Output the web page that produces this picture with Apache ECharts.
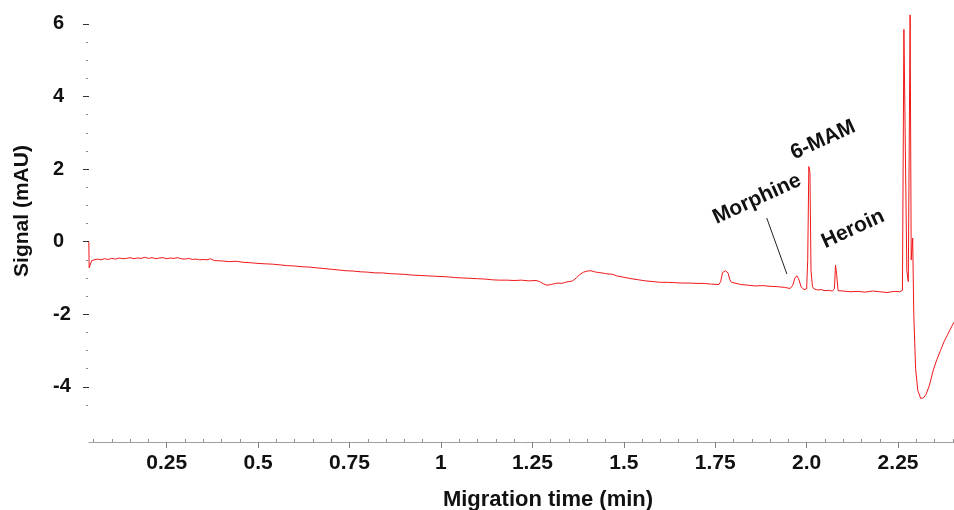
<!DOCTYPE html>
<html>
<head>
<meta charset="utf-8">
<script src="https://cdn.jsdelivr.net/npm/echarts@6/dist/echarts.min.js"></script>
<style>
  html, body { margin: 0; padding: 0; background: #fff; }
  #chart { width: 954px; height: 510px; }
</style>
</head>
<body>
<div id="chart"></div>
<script>
// Electropherogram: migration time (min) vs. UV signal (mAU)
const timeMin = [
  0.037, 0.038, 0.040, 0.045, 0.050, 0.060, 0.070, 0.080, 0.090, 0.100,
  0.110, 0.120, 0.130, 0.140, 0.150, 0.160, 0.170, 0.180, 0.190, 0.200,
  0.210, 0.220, 0.230, 0.240, 0.250, 0.260, 0.270, 0.280, 0.290, 0.300,
  0.310, 0.320, 0.330, 0.340, 0.350, 0.360, 0.370, 0.380, 0.400, 0.420,
  0.440, 0.460, 0.480, 0.500, 0.520, 0.540, 0.560, 0.580, 0.600, 0.620,
  0.640, 0.660, 0.680, 0.700, 0.720, 0.740, 0.760, 0.780, 0.800, 0.820,
  0.840, 0.860, 0.880, 0.900, 0.920, 0.940, 0.960, 0.980, 1.000, 1.020,
  1.040, 1.060, 1.080, 1.100, 1.120, 1.140, 1.160, 1.180, 1.200, 1.220,
  1.240, 1.260, 1.270, 1.280, 1.290, 1.300, 1.310, 1.320, 1.330, 1.340,
  1.350, 1.360, 1.370, 1.380, 1.390, 1.400, 1.410, 1.420, 1.430, 1.440,
  1.450, 1.460, 1.470, 1.480, 1.500, 1.520, 1.540, 1.560, 1.580, 1.600,
  1.620, 1.640, 1.660, 1.680, 1.700, 1.720, 1.740, 1.760, 1.765, 1.770,
  1.778, 1.785, 1.790, 1.795, 1.800, 1.820, 1.840, 1.860, 1.880, 1.900,
  1.920, 1.940, 1.955, 1.962, 1.968, 1.973, 1.978, 1.985, 1.993, 2.000,
  2.003, 2.006, 2.009, 2.012, 2.016, 2.020, 2.030, 2.040, 2.050, 2.060,
  2.070, 2.076, 2.079, 2.082, 2.086, 2.090, 2.100, 2.120, 2.140, 2.160,
  2.180, 2.200, 2.220, 2.240, 2.255, 2.262, 2.266, 2.270, 2.274, 2.278,
  2.283, 2.286, 2.290, 2.293, 2.298, 2.304, 2.312, 2.320, 2.327, 2.336,
  2.346, 2.356, 2.366, 2.376, 2.386, 2.396, 2.403
];
const signalMAU = [
  0.00, -0.72, -0.66, -0.52, -0.50, -0.48, -0.50, -0.47, -0.49, -0.46,
  -0.48, -0.45, -0.47, -0.46, -0.44, -0.47, -0.45, -0.46, -0.43, -0.46,
  -0.44, -0.47, -0.45, -0.44, -0.47, -0.45, -0.46, -0.44, -0.47, -0.48,
  -0.46, -0.49, -0.48, -0.50, -0.49, -0.50, -0.47, -0.52, -0.53, -0.55,
  -0.54, -0.57, -0.58, -0.60, -0.61, -0.62, -0.64, -0.66, -0.67, -0.69,
  -0.70, -0.72, -0.74, -0.76, -0.78, -0.80, -0.81, -0.83, -0.84, -0.86,
  -0.86, -0.88, -0.89, -0.90, -0.92, -0.93, -0.94, -0.95, -0.96, -0.97,
  -0.99, -1.00, -1.01, -1.02, -1.03, -1.05, -1.06, -1.06, -1.07, -1.06,
  -1.08, -1.07, -1.10, -1.16, -1.20, -1.18, -1.16, -1.14, -1.15, -1.12,
  -1.10, -1.08, -1.00, -0.90, -0.84, -0.81, -0.80, -0.83, -0.85, -0.86,
  -0.88, -0.89, -0.90, -0.94, -0.98, -1.02, -1.05, -1.08, -1.10, -1.12,
  -1.12, -1.13, -1.14, -1.14, -1.15, -1.15, -1.17, -1.18, -1.10, -0.85,
  -0.80, -0.86, -1.05, -1.12, -1.14, -1.18, -1.20, -1.22, -1.21, -1.23,
  -1.24, -1.26, -1.29, -1.20, -1.00, -0.94, -1.02, -1.25, -1.32, -1.30,
  -0.50, 2.07, 1.90, -0.80, -1.24, -1.30, -1.33, -1.32, -1.35, -1.34,
  -1.36, -1.30, -0.65, -0.90, -1.35, -1.37, -1.36, -1.38, -1.37, -1.39,
  -1.36, -1.38, -1.40, -1.37, -1.38, -1.34, 5.85, 5.80, -0.80, -1.10,
  6.25, -0.50, 0.10, -2.00, -3.50, -4.10, -4.32, -4.30, -4.20, -3.95,
  -3.55, -3.25, -3.00, -2.75, -2.55, -2.35, -2.22
];

// axis tick values
const xLabelValues = [0.25, 0.5, 0.75, 1, 1.25, 1.5, 1.75, 2.0, 2.25];
const xLabelTexts = ['0.25', '0.5', '0.75', '1', '1.25', '1.5', '1.75', '2.0', '2.25'];
const xMinorTicks = [0.05, 0.1, 0.15, 0.2, 0.3, 0.35, 0.4, 0.45, 0.55, 0.6, 0.65, 0.7,
  0.8, 0.85, 0.9, 0.95, 1.05, 1.1, 1.15, 1.2, 1.3, 1.35, 1.4, 1.45, 1.55, 1.6, 1.65, 1.7,
  1.8, 1.85, 1.9, 1.95, 2.05, 2.1, 2.15, 2.2, 2.3, 2.35, 2.4];
const yLabelValues = [6, 4, 2, 0, -2, -4];
const yMinorTicks = [5.5, 5, 4.5, 3.5, 3, 2.5, 1.5, 1, 0.5, -0.5, -1, -1.5, -2.5, -3, -3.5, -4.5];

// peak annotation texts
const peakNames = ['Morphine', '6-MAM', 'Heroin'];

const FONT = '"Liberation Sans", Arial, sans-serif';
const X_MIN = 0.0375, X_MAX = 2.403, Y_MIN = -5.52, Y_MAX = 6.66;

const chart = echarts.init(document.getElementById('chart'));

const series = timeMin.map((t, i) => [t, signalMAU[i]]);

const annStyle = (text) => ({
  text, fontFamily: FONT, fontWeight: 'bold', fontSize: 21,
  fill: '#111', textAlign: 'center', textVerticalAlign: 'middle'
});

chart.setOption({
  animation: false,
  backgroundColor: '#ffffff',
  grid: { left: 89, right: 0, top: 0, bottom: 68 },
  xAxis: [
    {
      type: 'value', min: X_MIN, max: X_MAX,
      axisLine: { show: true, onZero: false, lineStyle: { color: '#a0a0a0', width: 1 } },
      axisTick: { show: true, customValues: xLabelValues, length: 6, lineStyle: { color: '#808080' } },
      axisLabel: {
        customValues: xLabelValues,
        formatter: v => xLabelTexts[xLabelValues.findIndex(x => Math.abs(x - v) < 1e-6)] || '',
        fontFamily: FONT, fontWeight: 'bold', fontSize: 21, color: '#111', margin: 11
      },
      splitLine: { show: false }
    },
    {
      type: 'value', min: X_MIN, max: X_MAX, position: 'bottom',
      axisLine: { show: false, onZero: false },
      axisTick: { show: true, inside: true, customValues: xMinorTicks, length: 3, lineStyle: { color: '#909090' } },
      axisLabel: { show: false },
      splitLine: { show: false }
    }
  ],
  yAxis: [
    {
      type: 'value', min: Y_MIN, max: Y_MAX,
      axisLine: { show: false, onZero: false },
      axisTick: { show: true, customValues: yLabelValues, length: 6, lineStyle: { color: '#333', width: 1 } },
      axisLabel: {
        customValues: yLabelValues,
        fontFamily: FONT, fontWeight: 'bold', fontSize: 20, color: '#111',
        align: 'left', margin: 36
      },
      splitLine: { show: false }
    },
    {
      type: 'value', min: Y_MIN, max: Y_MAX, position: 'left', offset: 1,
      axisLine: { show: false, onZero: false },
      axisTick: { show: true, customValues: yMinorTicks, length: 2, lineStyle: { color: '#888', width: 1 } },
      axisLabel: { show: false },
      splitLine: { show: false }
    }
  ],
  graphic: [
    {
      type: 'text', x: 22, y: 211, rotation: Math.PI / 2,
      style: { text: 'Signal (mAU)', fontFamily: FONT, fontWeight: 'bold', fontSize: 21,
        fill: '#111', textAlign: 'center', textVerticalAlign: 'middle' }
    },
    {
      type: 'text', x: 548, y: 500,
      style: { text: 'Migration time (min)', fontFamily: FONT, fontWeight: 'bold', fontSize: 22,
        fill: '#111', textAlign: 'center', textVerticalAlign: 'middle' }
    },
    { type: 'text', x: 757, y: 199, rotation: 0.43, style: annStyle(peakNames[0]) },
    { type: 'text', x: 823, y: 140, rotation: 0.43, style: annStyle(peakNames[1]) },
    { type: 'text', x: 853, y: 229, rotation: 0.43, style: annStyle(peakNames[2]) }
  ],
  series: [
    {
      type: 'line', xAxisIndex: 0, yAxisIndex: 0,
      data: series, showSymbol: false, smooth: false,
      lineStyle: { color: '#f01818', width: 1 },
      markLine: {
        silent: true, symbol: ['none', 'none'],
        lineStyle: { color: '#222', width: 1, type: 'solid' },
        label: { show: false },
        data: [[{ coord: [1.891, 0.65] }, { coord: [1.946, -0.89] }]]
      }
    }
  ]
});
</script>
</body>
</html>
